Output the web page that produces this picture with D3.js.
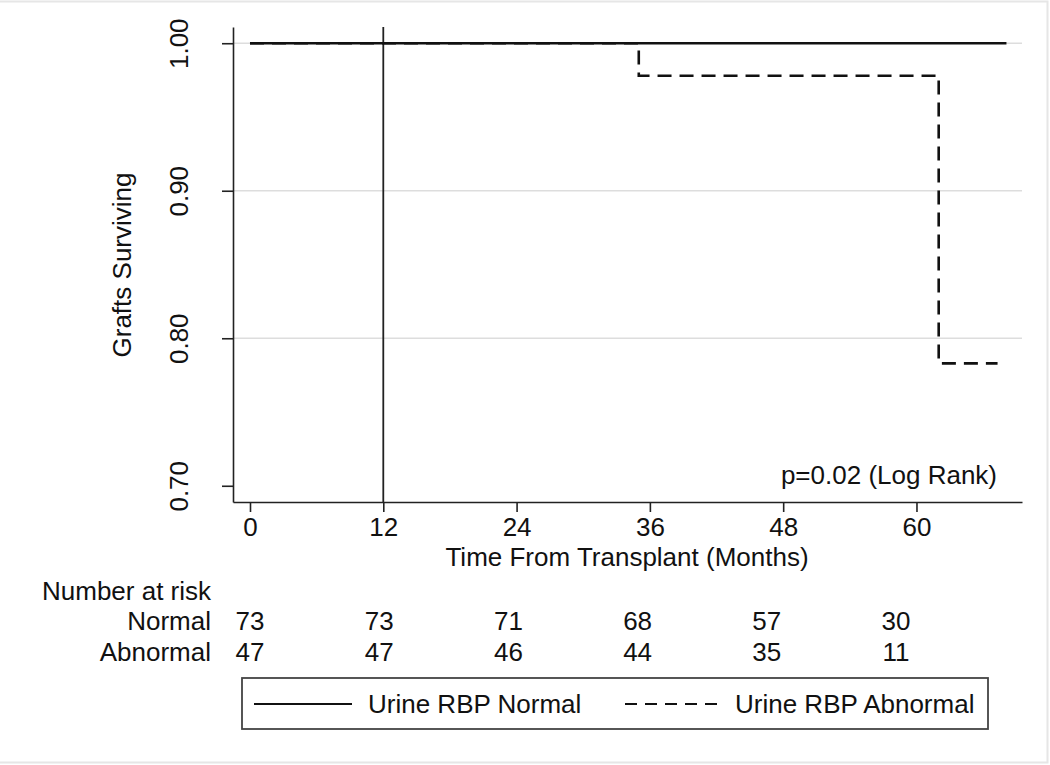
<!DOCTYPE html>
<html>
<head>
<meta charset="utf-8">
<script src="https://cdn.jsdelivr.net/npm/d3@7"></script>
<style>
  html, body { margin: 0; padding: 0; background: #fff; }
  svg { display: block; }
  text { font-family: "Liberation Sans", Arial, Helvetica, sans-serif; fill: #111; }
</style>
</head>
<body>
<svg id="chart" width="1050" height="765"></svg>
<script>
// ---- data ----
const xTicks = [0, 12, 24, 36, 48, 60];
const yTicks = [0.70, 0.80, 0.90, 1.00];
const yTickLabels = ["0.70", "0.80", "0.90", "1.00"];
const gridValues = [0.80, 0.90, 1.00];
const refLineTimes = [12];
const normalTimes = [0, 68.1];
const normalSurv = [1.0, 1.0];
const abnormalTimes = [0, 35, 62, 67.3];
const abnormalSurv = [1.0, 0.978, 0.783, 0.783];
const riskGroups = ["Normal", "Abnormal"];
const riskNormal = [73, 73, 71, 68, 57, 30];
const riskAbnormal = [47, 47, 46, 44, 35, 11];
const legendLabels = ["Urine RBP Normal", "Urine RBP Abnormal"];
const pText = "p=0.02 (Log Rank)";

// ---- layout ----
const svg = d3.select("#chart");
const FS = 26;

// faint outer frame
svg.append("path")
  .attr("d", "M0,1.5 H1047.5 V762.5 H0")
  .attr("fill", "none").attr("stroke", "#e6e6e6").attr("stroke-width", 2);

const x = d3.scaleLinear().domain([-1.53, 69.5]).range([233, 1022]);
const y = d3.scaleLinear().domain([0.689, 1.011]).range([502, 27]);
const riskX = d3.scaleLinear().domain([0, 60]).range([250, 896]);

// gridlines
svg.append("g").selectAll("line").data(gridValues).join("line")
  .attr("x1", x.range()[0]).attr("x2", x.range()[1])
  .attr("y1", d => y(d)).attr("y2", d => y(d))
  .attr("stroke", "#dddddd").attr("stroke-width", 1.5);

// x axis
const xAxis = svg.append("g").attr("transform", `translate(0,${y.range()[0]})`)
  .call(d3.axisBottom(x).tickValues(xTicks).tickSize(10).tickPadding(6).tickSizeOuter(0));
xAxis.select(".domain").attr("stroke", "#222").attr("stroke-width", 1.6);
xAxis.selectAll(".tick line").attr("stroke", "#222").attr("stroke-width", 1.6);
xAxis.selectAll(".tick text").attr("font-size", FS).attr("font-family", "Liberation Sans, Arial, sans-serif").attr("fill", "#111")
  .attr("dy", "0.71em");

// y axis
const yAxis = svg.append("g").attr("transform", `translate(${x.range()[0]},0)`)
  .call(d3.axisLeft(y).tickValues(yTicks).tickFormat((d, i) => yTickLabels[i]).tickSize(11).tickSizeOuter(0));
yAxis.select(".domain").attr("stroke", "#222").attr("stroke-width", 1.6);
yAxis.selectAll(".tick line").attr("stroke", "#222").attr("stroke-width", 1.6);
yAxis.selectAll(".tick text")
  .attr("font-size", FS).attr("font-family", "Liberation Sans, Arial, sans-serif").attr("fill", "#111")
  .attr("x", null).attr("dy", null)
  .attr("text-anchor", "middle")
  .attr("transform", "translate(-45,0) rotate(-90)");

// reference line at 12 months
svg.append("g").selectAll("line").data(refLineTimes).join("line")
  .attr("x1", d => x(d)).attr("x2", d => x(d))
  .attr("y1", y.range()[1]).attr("y2", y.range()[0])
  .attr("stroke", "#222").attr("stroke-width", 1.8);

// survival curves
const step = d3.line().x(d => x(d[0])).y(d => y(d[1])).curve(d3.curveStepAfter);
svg.append("path")
  .datum(abnormalTimes.map((t, i) => [t, abnormalSurv[i]]))
  .attr("d", step).attr("fill", "none").attr("stroke", "#111")
  .attr("stroke-width", 2.6).attr("stroke-dasharray", "14,8");
svg.append("path")
  .datum(normalTimes.map((t, i) => [t, normalSurv[i]]))
  .attr("d", step).attr("fill", "none").attr("stroke", "#111")
  .attr("stroke-width", 2.6);

// p-value annotation
svg.append("text").attr("x", 997).attr("y", 484).attr("text-anchor", "end")
  .attr("font-size", FS).text(pText);

// axis titles
svg.append("text").attr("x", 627).attr("y", 566).attr("text-anchor", "middle")
  .attr("font-size", FS).text("Time From Transplant (Months)");
svg.append("text").attr("transform", "translate(131,265) rotate(-90)")
  .attr("text-anchor", "middle").attr("font-size", FS).text("Grafts Surviving");

// number at risk table
svg.append("text").attr("x", 42).attr("y", 600).attr("font-size", FS).text("Number at risk");
const riskRows = [riskNormal, riskAbnormal];
const rowY = [630, 661];
riskGroups.forEach((g, gi) => {
  svg.append("text").attr("x", 211).attr("y", rowY[gi]).attr("text-anchor", "end")
    .attr("font-size", FS).text(g);
  svg.append("g").selectAll("text").data(riskRows[gi]).join("text")
    .attr("x", (d, i) => riskX(xTicks[i])).attr("y", rowY[gi])
    .attr("text-anchor", "middle").attr("font-size", FS).text(d => d);
});

// legend
const leg = svg.append("g");
leg.append("rect").attr("x", 242).attr("y", 678).attr("width", 746).attr("height", 51)
  .attr("fill", "#fff").attr("stroke", "#444").attr("stroke-width", 1.8);
leg.append("line").attr("x1", 254).attr("x2", 352).attr("y1", 704).attr("y2", 704)
  .attr("stroke", "#111").attr("stroke-width", 2);
leg.append("text").attr("x", 368).attr("y", 713).attr("font-size", FS).text(legendLabels[0]);
leg.append("line").attr("x1", 625).attr("x2", 720).attr("y1", 704).attr("y2", 704)
  .attr("stroke", "#111").attr("stroke-width", 2).attr("stroke-dasharray", "12,8");
leg.append("text").attr("x", 735).attr("y", 713).attr("font-size", FS).text(legendLabels[1]);
</script>
</body>
</html>
